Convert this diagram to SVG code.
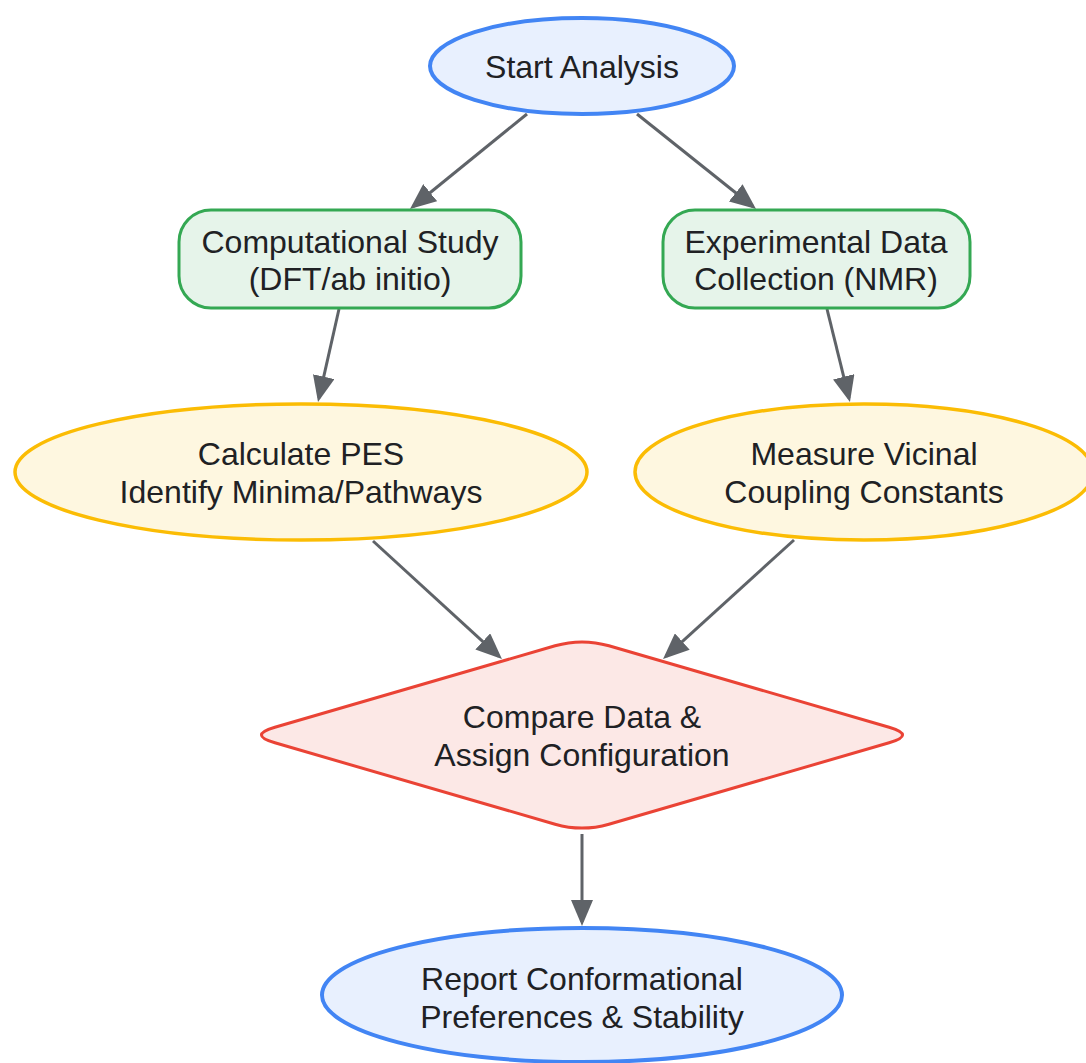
<svg xmlns="http://www.w3.org/2000/svg" width="1086" height="1063" viewBox="0 0 1086 1063">
<defs>
<style>
text{font-family:"Liberation Sans",Arial,sans-serif;font-size:32px;fill:#202124;text-anchor:middle}
.blue{fill:#E8F0FE;stroke:#4285F4;stroke-width:4}
.green{fill:#E6F4EA;stroke:#34A853;stroke-width:3}
.yellow{fill:#FEF7E0;stroke:#FBBC04;stroke-width:3.5}
.red{fill:#FCE8E6;stroke:#EA4335;stroke-width:3}
.edge{stroke:#5F6368;stroke-width:3;fill:none;marker-end:url(#arrow)}
</style>
<marker id="arrow" markerUnits="userSpaceOnUse" markerWidth="26" markerHeight="22" viewBox="0 0 26 22" refX="22" refY="11" orient="auto">
<path d="M0,0 L26,11 L0,22 z" fill="#5F6368"/>
</marker>
</defs>
<rect width="1086" height="1063" fill="#ffffff"/>
<g id="connectors">
<line class="edge" x1="527" y1="114" x2="413.1" y2="206.5"/>
<line class="edge" x1="637" y1="114" x2="752.9" y2="206.5"/>
<line class="edge" x1="339" y1="309" x2="318.9" y2="398.1"/>
<line class="edge" x1="827" y1="309" x2="849" y2="398.1"/>
<line class="edge" x1="373" y1="541" x2="499" y2="656.3"/>
<line class="edge" x1="794" y1="540" x2="666" y2="656.3"/>
<line class="edge" x1="582" y1="834" x2="582" y2="922"/>
</g>
<g id="start">
<ellipse class="blue" cx="582" cy="66" rx="152" ry="48"/>
<text x="582" y="78">Start Analysis</text>
</g>
<g id="computational">
<rect class="green" x="179" y="210" width="342" height="98" rx="32" ry="32"/>
<text x="350" y="253">Computational Study</text>
<text x="350" y="290">(DFT/ab initio)</text>
</g>
<g id="experimental">
<rect class="green" x="663" y="210" width="307" height="98" rx="32" ry="32"/>
<text x="816" y="253">Experimental Data</text>
<text x="816" y="290">Collection (NMR)</text>
</g>
<g id="pes">
<ellipse class="yellow" cx="301" cy="472" rx="286" ry="68"/>
<text x="301" y="465">Calculate PES</text>
<text x="301" y="503">Identify Minima/Pathways</text>
</g>
<g id="measure">
<ellipse class="yellow" cx="864" cy="472" rx="229" ry="68"/>
<text x="864" y="465">Measure Vicinal</text>
<text x="864" y="503">Coupling Constants</text>
</g>
<g id="compare">
<path class="red" d="M555.1,645.8 Q582,638 608.9,645.8 L889.1,727.2 Q916,735 889.1,742.8 L608.9,824.2 Q582,832 555.1,824.2 L274.9,742.8 Q248,735 274.9,727.2 Z"/>
<text x="582" y="728">Compare Data &amp;</text>
<text x="582" y="766">Assign Configuration</text>
</g>
<g id="report">
<ellipse class="blue" cx="582" cy="995" rx="260" ry="67"/>
<text x="582" y="990">Report Conformational</text>
<text x="582" y="1028">Preferences &amp; Stability</text>
</g>
</svg>
